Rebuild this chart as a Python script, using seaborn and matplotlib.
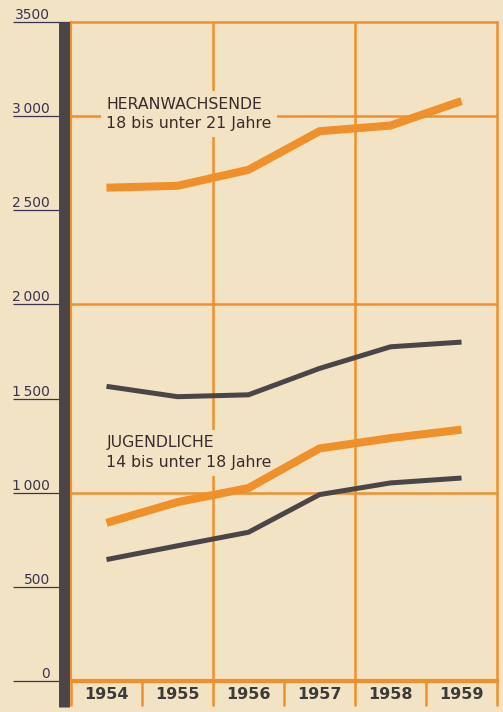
import numpy as np
import pandas as pd
import seaborn as sns
import matplotlib.pyplot as plt
from matplotlib.lines import Line2D
from matplotlib import font_manager

years = [1954, 1955, 1956, 1957, 1958, 1959]
# Heranwachsende 18 bis unter 21 Jahre
heran_orange = [2620, 2630, 2715, 2920, 2950, 3080]
heran_dark = [1565, 1510, 1520, 1660, 1775, 1800]
# Jugendliche 14 bis unter 18 Jahre
jugend_orange = [840, 950, 1025, 1235, 1290, 1335]
jugend_dark = [645, 718, 790, 990, 1052, 1078]

ytick_vals = [0, 500, 1000, 1500, 2000, 2500, 3000, 3500]
ytick_labels = ["0", "500", "1\u2009000", "1\u2009500", "2\u2009000",
                "2\u2009500", "3\u2009000", "3500"]
grid_y = [1000, 2000, 3000]
grid_x = [1955.5, 1957.5]

bg = "#f2e3c4"
orange = "#f0902a"
dark = "#4a4648"
txt = "#3a2b2e"
navy = "#3a3352"

sns.set_style("white")
plt.rcParams["font.family"] = ["DejaVu Sans"]

names = {f.name for f in font_manager.fontManager.ttflist}
print(sorted(n for n in names if "Narrow" in n or "Condensed" in n))
year_font = "DejaVu Sans"
for cand in ["Liberation Sans Narrow", "DejaVu Sans Condensed"]:
    if cand in names:
        year_font = cand
        break

fig = plt.figure(figsize=(5.03, 7.12), dpi=100, facecolor=bg)
ax = fig.add_axes([71 / 503, 31 / 712, 426 / 503, 659 / 712])
ax.set_facecolor(bg)

df = pd.DataFrame({"year": years, "ho": heran_orange, "hd": heran_dark,
                   "jo": jugend_orange, "jd": jugend_dark})

for col, color, lw in [("hd", dark, 3.6), ("jd", dark, 3.6),
                       ("ho", orange, 5.8), ("jo", orange, 5.8)]:
    sns.lineplot(data=df, x="year", y=col, color=color, linewidth=lw,
                 ax=ax, zorder=5, solid_capstyle="butt")

for g in grid_y:
    ax.axhline(g, color=orange, lw=1.8, zorder=1)
for g in grid_x:
    ax.axvline(g, color=orange, lw=1.8, zorder=1)

ax.set_xlim(1953.5, 1959.5)
ax.set_ylim(0, 3500)
ax.set_xlabel("")
ax.set_ylabel("")

for side, lw in [("top", 1.8), ("right", 1.8), ("left", 1.5), ("bottom", 3.0)]:
    ax.spines[side].set_visible(True)
    ax.spines[side].set_color(orange)
    ax.spines[side].set_linewidth(lw)

# years and separators in the bottom band
ax.set_xticks(years)
ax.set_xticklabels([str(y) for y in years])
ax.set_xticks(np.arange(1953.5, 1960, 1.0), minor=True)
ax.tick_params(axis="x", which="major", bottom=True, length=0, pad=4,
               labelsize=11.5, labelcolor="#3d3a3a")
ax.tick_params(axis="x", which="minor", bottom=True, direction="out",
               length=18, width=1.8, color=orange)
for lab in ax.get_xticklabels():
    lab.set_fontweight("bold")
    lab.set_family(year_font)

# y ticks: long underline with label on top
ax.set_yticks(ytick_vals)
ax.set_yticklabels(ytick_labels)
ax.tick_params(axis="y", left=True, direction="out", length=42, width=0.9,
               color=navy, pad=-27, labelsize=10, labelcolor=navy)
for lab in ax.get_yticklabels():
    lab.set_verticalalignment("bottom")

# group labels
ax.text(1954.0, 2935, "HERANWACHSENDE\n18 bis unter 21 Jahre", fontsize=11.3,
        color=txt, ha="left", va="baseline", linespacing=1.4, zorder=4,
        bbox=dict(facecolor=bg, edgecolor="none", pad=4))
ax.text(1954.0, 1135, "JUGENDLICHE\n14 bis unter 18 Jahre", fontsize=11.3,
        color=txt, ha="left", va="baseline", linespacing=1.4, zorder=4,
        bbox=dict(facecolor=bg, edgecolor="none", pad=4))

# dark vertical bar left of the plot
fig.add_artist(Line2D([63.5 / 503, 63.5 / 503], [5 / 712, 690 / 712],
                      transform=fig.transFigure, color=dark, lw=7.9,
                      solid_capstyle="butt"))

fig.savefig("out.png", dpi=100, facecolor=bg)
